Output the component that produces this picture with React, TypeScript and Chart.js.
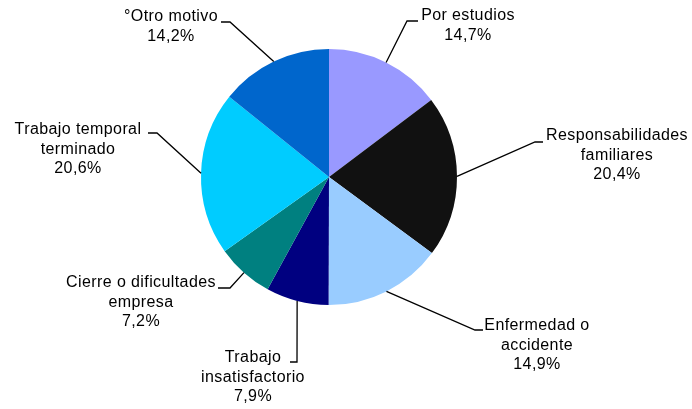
import React, { useEffect, useRef } from "react";
import { Chart, registerables } from "chart.js";

Chart.register(...registerables);

const categories = [
  "Por estudios",
  "Responsabilidades familiares",
  "Enfermedad o accidente",
  "Trabajo insatisfactorio",
  "Cierre o dificultades empresa",
  "Trabajo temporal terminado",
  "°Otro motivo",
];
const labelLines = [
  ["Por estudios"],
  ["Responsabilidades", "familiares"],
  ["Enfermedad o", "accidente"],
  ["Trabajo", "insatisfactorio"],
  ["Cierre o dificultades", "empresa"],
  ["Trabajo temporal", "terminado"],
  ["°Otro motivo"],
];
const values = [14.7, 20.4, 14.9, 7.9, 7.2, 20.6, 14.2];
const colors = ["#9999FF", "#111111", "#99CCFF", "#000080", "#008080", "#00CCFF", "#0066CC"];

// label placement: elbow point, end of horizontal segment, text center x, first-line y
const placement = [
  { ex: 407, ey: 21, hx: 418, tx: 468, ty: 16 },
  { ex: 535, ey: 142, hx: 543, tx: 617, ty: 136 },
  { ex: 475, ey: 330, hx: 483, tx: 537, ty: 326 },
  { ex: 297, ey: 362, hx: 290, tx: 253, ty: 358 },
  { ex: 230, ey: 288, hx: 218, tx: 141, ty: 283 },
  { ex: 157, ey: 133, hx: 148, tx: 78, ty: 130 },
  { ex: 230, ey: 22, hx: 221, tx: 171, ty: 17 },
];

const fmt = (v: number) => v.toFixed(1).replace(".", ",") + "%";

const labelPlugin = {
  id: "leaderLabels",
  afterDraw(chart: any) {
    const ctx = chart.ctx;
    const meta = chart.getDatasetMeta(0);
    ctx.save();
    meta.data.forEach((arc: any, i: number) => {
      const p = arc.getProps(["x", "y", "startAngle", "endAngle", "outerRadius"], true);
      const mid = (p.startAngle + p.endAngle) / 2;
      const sx = p.x + Math.cos(mid) * p.outerRadius;
      const sy = p.y + Math.sin(mid) * p.outerRadius;
      const pl = placement[i];
      ctx.strokeStyle = "#000";
      ctx.lineWidth = 1.3;
      ctx.beginPath();
      ctx.moveTo(sx, sy);
      ctx.lineTo(pl.ex, pl.ey);
      ctx.lineTo(pl.hx, pl.ey);
      ctx.stroke();
      ctx.fillStyle = "#000";
      ctx.font = "16px 'Liberation Sans', Arial, sans-serif";
      (ctx as any).letterSpacing = "0.4px";
      ctx.textAlign = "center";
      ctx.textBaseline = "middle";
      const lines = [...labelLines[i], fmt(values[i])];
      lines.forEach((t, j) => ctx.fillText(t, pl.tx, pl.ty + j * 19.5));
    });
    ctx.restore();
  },
};

export default function App() {
  const ref = useRef<HTMLCanvasElement>(null);
  useEffect(() => {
    const chart = new Chart(ref.current!, {
      type: "pie",
      data: {
        labels: categories,
        datasets: [
          {
            data: values,
            backgroundColor: colors,
            borderWidth: 0,
          },
        ],
      },
      options: {
        responsive: false,
        animation: false,
        layout: { padding: { left: 201, right: 235, top: 49, bottom: 104 } },
        plugins: { legend: { display: false }, tooltip: { enabled: false } },
      },
      plugins: [labelPlugin],
    });
    return () => chart.destroy();
  }, []);
  return (
    <div style={{ position: "fixed", left: 0, top: 0, width: 692, height: 409, background: "#fff" }}>
      <canvas ref={ref} width={692} height={409} />
    </div>
  );
}
